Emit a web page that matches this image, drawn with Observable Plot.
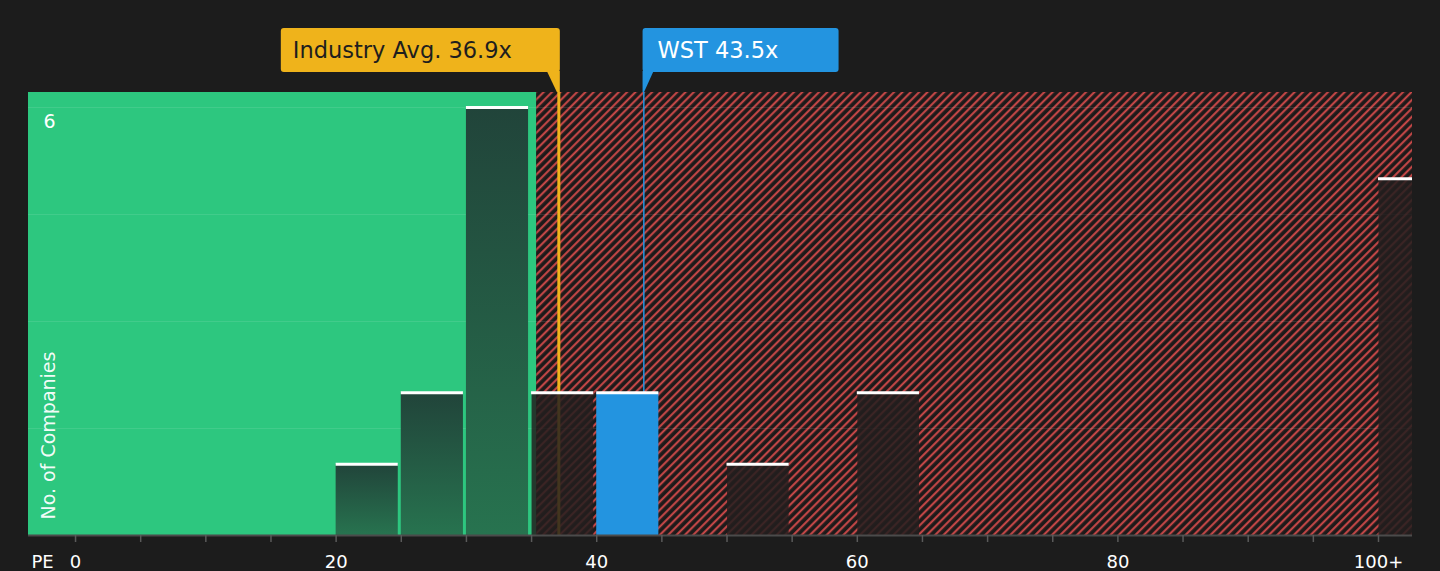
<!DOCTYPE html>
<html>
<head>
<meta charset="utf-8">
<script src="https://cdn.jsdelivr.net/npm/d3@7"></script>
<script src="https://cdn.jsdelivr.net/npm/@observablehq/plot@0.6"></script>
<style>
  html, body { margin: 0; padding: 0; background: #1c1c1c; }
  #chart svg { display: block; }
</style>
</head>
<body>
<div id="chart"></div>
<script>
// ---- data ----
const binStarts = [20, 25, 30, 35, 40, 50, 60, 100];
const binCounts = [1, 2, 6, 2, 2, 1, 2, 5];
const binWidth = 5;
const companyBin = 40;
const companyName = "WST";
const companyPE = 43.5;
const industryAvg = 36.9;
const fairBoundary = 35.4;
const minorTicks = [0, 5, 10, 15, 20, 25, 30, 35, 40, 45, 50, 55, 60, 65, 70, 75, 80, 85, 90, 95, 100];
const xTickValues = [0, 20, 40, 60, 80, 100];
const xTickLabels = ["0", "20", "40", "60", "80", "100+"];
const yGrid = [1.5, 3, 4.5, 6];
const yTickValues = [6];
const xDomain = [-3.61, 102.61];
const yDomain = [0, 6.21];

// ---- styles ----
const GREEN = "#2dc77f";
const GOLD = "#efb31b";
const BLUE = "#2394e0";
const FONT = "DejaVu Sans, Verdana, sans-serif";

const bars = binStarts.map((s, i) => ({x1: s, x2: s + binWidth, count: binCounts[i]}));
const greenBars = bars.filter(d => d.x2 <= fairBoundary);
const companyBars = bars.filter(d => d.x1 === companyBin);
const redBars = bars.filter(d => d.x2 > fairBoundary && d.x1 !== companyBin);

const plot = Plot.plot({
  width: 1440,
  height: 571,
  marginLeft: 28,
  marginRight: 28,
  marginTop: 92,
  marginBottom: 36,
  x: {domain: xDomain},
  y: {domain: yDomain},
  style: {background: "transparent", fontFamily: FONT, color: "white", overflow: "visible"},
  marks: [
    Plot.rect([0], {x1: xDomain[0], x2: fairBoundary, y1: yDomain[0], y2: yDomain[1], fill: GREEN}),
    Plot.rect([0], {x1: fairBoundary, x2: xDomain[1], y1: yDomain[0], y2: yDomain[1], fill: "url(#hatch)"}),
    Plot.ruleY(yGrid, {stroke: "white", strokeOpacity: 0.1, strokeWidth: 1}),
    Plot.ruleX([industryAvg], {y1: yDomain[0], y2: yDomain[1], stroke: GOLD, strokeWidth: 3, dx: 2.5}),
    Plot.ruleX([companyPE], {y1: yDomain[0], y2: yDomain[1], stroke: BLUE, strokeWidth: 1.5, dx: 1.5}),
    Plot.rect(greenBars, {x1: "x1", x2: "x2", y1: 0, y2: "count", fill: "url(#greenGrad)", insetRight: 3}),
    Plot.rect(redBars, {x1: "x1", x2: "x2", y1: 0, y2: "count", fill: "#231e1e", fillOpacity: 0.85, insetRight: 3, insetLeft: 0.5, clip: true}),
    Plot.rect(companyBars, {x1: "x1", x2: "x2", y1: 0, y2: "count", fill: BLUE, insetRight: 3}),
    Plot.ruleY(bars, {x1: "x1", x2: "x2", y: "count", stroke: "white", strokeWidth: 3, insetRight: 3, clip: true}),
    Plot.ruleY([0], {stroke: "#4b4b4b", strokeWidth: 2}),
    Plot.axisX(minorTicks, {tickSize: 7, stroke: "#5a5a5a", strokeWidth: 1.5, tickFormat: () => "", label: null}),
    Plot.axisX(xTickValues, {tickSize: 0, tickPadding: 20, fontSize: 18, fill: "white",
      tickFormat: d => xTickLabels[xTickValues.indexOf(d)], label: null}),
    Plot.text(["PE"], {frameAnchor: "bottom-left", dx: 3, dy: 20, lineAnchor: "top", textAnchor: "start", fontSize: 18, fill: "white"}),
    Plot.axisY(yTickValues, {tickSize: 0, textAnchor: "start", dx: 24, dy: 14, fontSize: 19, fill: "white", tickFormat: d => `${d}`, label: null}),
    Plot.text(["No. of Companies"], {frameAnchor: "bottom-left", rotate: -90, dx: 20, dy: -16, textAnchor: "start", lineAnchor: "middle", fontSize: 19, fill: "white", fillOpacity: 0.95})
  ]
});

// ---- defs & annotations, positioned through Plot's scales ----
const svg = d3.select(plot);
const defs = svg.insert("defs", ":first-child");
const P = 5.9;
const hatch = defs.append("pattern")
  .attr("id", "hatch").attr("patternUnits", "userSpaceOnUse")
  .attr("width", P).attr("height", P)
  .attr("patternTransform", "rotate(45)");
hatch.append("rect").attr("width", P).attr("height", P).attr("fill", "#1d1a1a");
hatch.append("line").attr("x1", 1.2).attr("x2", 1.2).attr("y1", 0).attr("y2", P)
  .attr("stroke", "#cf4a4a").attr("stroke-width", 2);
const grad = defs.append("linearGradient").attr("id", "greenGrad")
  .attr("x1", 0).attr("x2", 0).attr("y1", 0).attr("y2", 1);
grad.append("stop").attr("offset", "0%").attr("stop-color", "#21443a");
grad.append("stop").attr("offset", "100%").attr("stop-color", "#27734f");

const xs = plot.scale("x");
const ys = plot.scale("y");
const topY = ys.apply(yDomain[1]);
const boxTop = 28, boxBottom = 72;

// Industry average label (box right-aligned to its line)
const avgX = xs.apply(industryAvg) + 2.5;
const avgRight = avgX + 1.5;
const avgW = 279;
const ga = svg.append("g").attr("text-anchor", "start");
ga.append("rect").attr("x", avgRight - avgW).attr("y", boxTop).attr("width", avgW)
  .attr("height", boxBottom - boxTop).attr("rx", 3).attr("fill", GOLD);
ga.append("path").attr("d", `M${avgRight - 13},${boxBottom - 1} L${avgRight},${boxBottom - 1} L${avgRight},${topY} L${avgX - 1.5},${topY} Z`).attr("fill", GOLD);
ga.append("text").attr("x", avgRight - avgW + 12).attr("y", 58).attr("text-anchor", "start")
  .attr("font-family", FONT).attr("font-size", 22.5).attr("fill", "#1e1e1e")
  .text(`Industry Avg. ${industryAvg.toFixed(1)}x`);

// Company label (box left-aligned to its line)
const coX = xs.apply(companyPE) + 1.5;
const coLeft = coX - 0.75;
const coW = 196;
const gc = svg.append("g").attr("text-anchor", "start");
gc.append("rect").attr("x", coLeft).attr("y", boxTop).attr("width", coW)
  .attr("height", boxBottom - boxTop).attr("rx", 3).attr("fill", BLUE);
gc.append("path").attr("d", `M${coLeft},${boxBottom - 1} L${coLeft + 11},${boxBottom - 1} L${coLeft + 1.5},${topY} L${coLeft},${topY} Z`).attr("fill", BLUE);
gc.append("text").attr("x", coLeft + 15).attr("y", 58).attr("text-anchor", "start")
  .attr("font-family", FONT).attr("font-size", 22.5).attr("fill", "white")
  .text(`${companyName} ${companyPE.toFixed(1)}x`);

document.getElementById("chart").appendChild(plot);
</script>
</body>
</html>
